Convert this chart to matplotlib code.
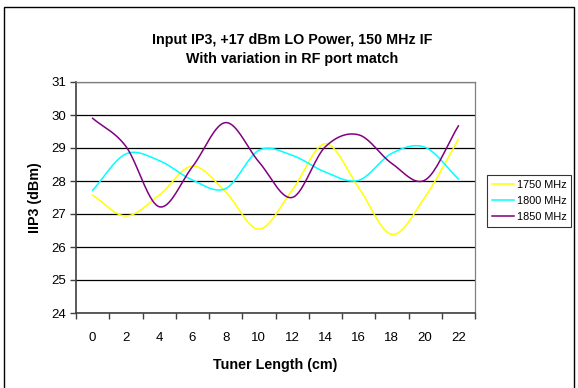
import numpy as np
import matplotlib.pyplot as plt
from matplotlib.patches import Rectangle

plt.rcParams['font.family'] = ['Liberation Sans', 'DejaVu Sans']

# tuner length categories (cm)
tuner_cm = [0, 2, 4, 6, 8, 10, 12, 14, 16, 18, 20, 22]

# IIP3 (dBm) for each LO frequency
iip3_1750 = [27.57, 26.94, 27.57, 28.45, 27.67, 26.54, 27.72, 29.13, 27.8, 26.38, 27.52, 29.26]
iip3_1800 = [27.72, 28.82, 28.62, 28.03, 27.77, 28.93, 28.78, 28.27, 28.02, 28.84, 29.02, 28.06]
iip3_1850 = [29.90, 29.05, 27.22, 28.43, 29.77, 28.58, 27.5, 29.04, 29.4, 28.53, 28.03, 29.67]

series_names = ['1750 MHz', '1800 MHz', '1850 MHz']
series_colors = ['#FFFF00', '#00FFFF', '#800080']


def smooth(x, y, n=20):
    # Excel-like smoothed line (Catmull-Rom through the points)
    x = np.asarray(x, float)
    y = np.asarray(y, float)
    px = np.concatenate([[2 * x[0] - x[1]], x, [2 * x[-1] - x[-2]]])
    py = np.concatenate([[2 * y[0] - y[1]], y, [2 * y[-1] - y[-2]]])
    xs, ys = [], []
    t = np.linspace(0, 1, n, endpoint=False)
    for i in range(1, len(px) - 2):
        for arr, out in ((px, xs), (py, ys)):
            p0, p1, p2, p3 = arr[i - 1], arr[i], arr[i + 1], arr[i + 2]
            out.extend(0.5 * ((2 * p1) + (-p0 + p2) * t
                              + (2 * p0 - 5 * p1 + 4 * p2 - p3) * t ** 2
                              + (-p0 + 3 * p1 - 3 * p2 + p3) * t ** 3))
    xs.append(x[-1])
    ys.append(y[-1])
    return np.array(xs), np.array(ys)


fig = plt.figure(figsize=(5.78, 3.88), dpi=100)
# chart border (bottom edge runs off the picture)
fig.patches.append(Rectangle((3.5 / 578, -3 / 388), 570.5 / 578, 384 / 388,
                             transform=fig.transFigure, fill=False,
                             edgecolor='black', linewidth=1))

ax = fig.add_axes([76 / 578, 1 - 313 / 388, 399 / 578, 231 / 388])

pos = np.arange(len(tuner_cm))
for vals, name, col in zip([iip3_1750, iip3_1800, iip3_1850], series_names, series_colors):
    sx, sy = smooth(pos, vals)
    ax.plot(sx, sy, color=col, linewidth=1.1, label=name)

ax.set_xlim(-0.5, len(tuner_cm) - 0.5)
ax.set_ylim(24, 31)
ax.set_yticks(range(24, 32))
ax.yaxis.grid(True, color='black', linewidth=0.9)
ax.set_axisbelow(True)

# ticks between categories, labels at category centres
ax.set_xticks(np.append(pos - 0.5, pos[-1] + 0.5))
ax.set_xticklabels([''] * (len(pos) + 1))
ax.set_xticks(pos, minor=True)
ax.set_xticklabels([str(v) for v in tuner_cm], minor=True)
ax.tick_params(axis='x', which='minor', length=0, pad=14, labelsize=9.5)
ax.tick_params(axis='x', which='major', length=4, direction='out', width=1, color='#404040')
ax.tick_params(axis='y', length=4, direction='out', width=1, color='#404040', labelsize=9.5, pad=3)

for s in ['top', 'right']:
    ax.spines[s].set_color('#808080')
    ax.spines[s].set_linewidth(0.9)
for s in ['left', 'bottom']:
    ax.spines[s].set_color('#404040')
    ax.spines[s].set_linewidth(1.2)

ax.set_xlabel('Tuner Length (cm)', fontsize=10.3, fontweight='bold', labelpad=10)
ax.set_ylabel('IIP3 (dBm)', fontsize=10.3, fontweight='bold', labelpad=7)

fig.text(292 / 578, 1 - 40 / 388, 'Input IP3, +17 dBm LO Power, 150 MHz IF',
         ha='center', va='center', fontsize=10.3, fontweight='bold')
fig.text(292 / 578, 1 - 59 / 388, 'With variation in RF port match',
         ha='center', va='center', fontsize=10.3, fontweight='bold')

leg = ax.legend(loc='upper left', bbox_to_anchor=(487 / 578, 1 - 175 / 388),
                bbox_transform=fig.transFigure, fontsize=7.8, frameon=True,
                fancybox=False, edgecolor='black', handlelength=2.0,
                handletextpad=0.3, borderpad=0.45, labelspacing=0.55,
                borderaxespad=0)
leg.get_frame().set_linewidth(0.8)

fig.savefig('out.png', dpi=100)
